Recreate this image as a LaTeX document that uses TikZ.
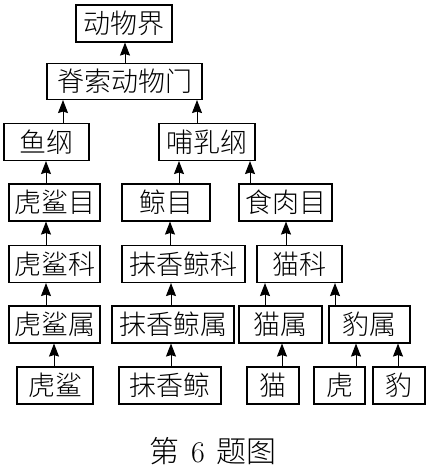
\documentclass[tikz,border=0pt]{standalone}
\usepackage{fontspec}
\newfontfamily\cjk{Noto Sans CJK SC Light}
\usetikzlibrary{arrows.meta}

\begin{document}
\begin{tikzpicture}[x=1pt, y=-1pt,
  box/.style={draw, line width=1.1pt, minimum height=37pt, inner sep=0pt, font=\cjk\fontsize{27}{29}\selectfont},
  up/.style={-{Stealth[length=13pt,width=10pt,inset=1.5pt]}, line width=1pt}]
	\useasboundingbox (0,0) rectangle (431,468);
	% kingdom, phylum, classes
	\node[box, minimum width=96pt] (jie) at (124,23.5) {动物界};
	\node[box, minimum width=155pt, minimum height=36pt] (men) at (124.5,81.5) {脊索动物门};
	\node[box, minimum width=85pt] (yugang) at (46.5,142) {鱼纲};
	\node[box, minimum width=96pt] (rugang) at (207,142) {哺乳纲};
	% orders
	\node[box, minimum width=91pt] (shamu) at (54.5,202.5) {虎鲨目};
	\node[box, minimum width=88pt] (jingmu) at (166,202.5) {鲸目};
	\node[box, minimum width=93pt] (roumu) at (285.5,202.5) {食肉目};
	% families
	\node[box, minimum width=91pt] (shake) at (54.5,264) {虎鲨科};
	\node[box, minimum width=123pt] (jingke) at (183.5,264) {抹香鲸科};
	\node[box, minimum width=85pt] (maoke) at (299.5,264) {猫科};
	% genera
	\node[box, minimum width=91pt] (shashu) at (54.5,324.5) {虎鲨属};
	\node[box, minimum width=122pt] (jingshu) at (173,324.5) {抹香鲸属};
	\node[box, minimum width=83pt] (maoshu) at (280.5,324.5) {猫属};
	\node[box, minimum width=81pt] (baoshu) at (369.5,324.5) {豹属};
	% species
	\node[box, minimum width=76pt] (sha) at (55,385.5) {虎鲨};
	\node[box, minimum width=102pt] (jing) at (170,385.5) {抹香鲸};
	\node[box, minimum width=52pt] (mao) at (273,385.5) {猫};
	\node[box, minimum width=51pt] (hu) at (339.5,385.5) {虎};
	\node[box, minimum width=52pt] (bao) at (399,385.5) {豹};

	\node[font=\fontsize{30}{32}\selectfont] (cap) at (213,451) {{\cjk 第}\hspace{12pt}6\hspace{12pt}{\cjk 题图}};

	\draw[up] (men.north -| 125,0) -- (jie.south -| 125,0);
	\draw[up] (yugang.north -| 63,0) -- (men.south -| 63,0);
	\draw[up] (rugang.north -| 197,0) -- (men.south -| 197,0);
	\draw[up] (shamu.north -| 46,0) -- (yugang.south -| 46,0);
	\draw[up] (jingmu.north -| 179,0) -- (rugang.south -| 179,0);
	\draw[up] (roumu.north -| 250,0) -- (rugang.south -| 250,0);
	\draw[up] (shake.north -| 46,0) -- (shamu.south -| 46,0);
	\draw[up] (jingke.north -| 170,0) -- (jingmu.south -| 170,0);
	\draw[up] (maoke.north -| 286,0) -- (roumu.south -| 286,0);
	\draw[up] (shashu.north -| 46,0) -- (shake.south -| 46,0);
	\draw[up] (jingshu.north -| 171,0) -- (jingke.south -| 171,0);
	\draw[up] (maoshu.north -| 265,0) -- (maoke.south -| 265,0);
	\draw[up] (baoshu.north -| 335,0) -- (maoke.south -| 335,0);
	\draw[up] (sha.north -| 54,0) -- (shashu.south -| 54,0);
	\draw[up] (jing.north -| 171,0) -- (jingshu.south -| 171,0);
	\draw[up] (mao.north -| 282,0) -- (maoshu.south -| 282,0);
	\draw[up] (hu.north -| 356,0) -- (baoshu.south -| 356,0);
	\draw[up] (bao.north -| 398,0) -- (baoshu.south -| 398,0);
\end{tikzpicture}
\end{document}
